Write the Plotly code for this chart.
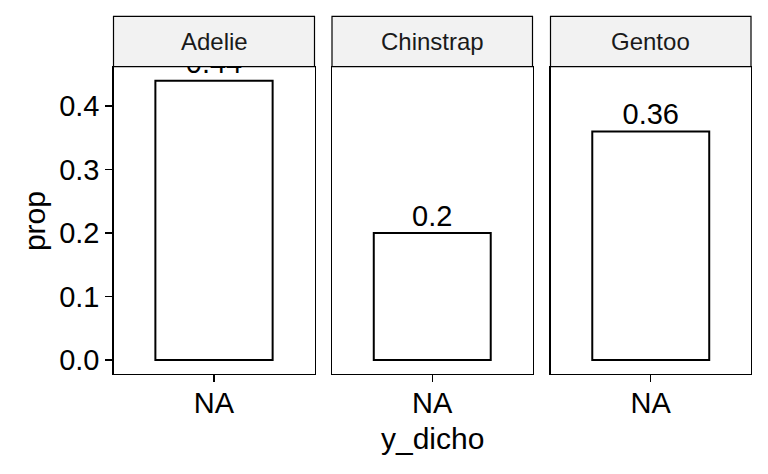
import plotly.graph_objects as go

species = ["Adelie", "Chinstrap", "Gentoo"]
props = [0.44, 0.2, 0.36]
labels = ["0.44", "0.2", "0.36"]
x_cat = ["NA", "NA", "NA"]
y_ticks = [0, 0.1, 0.2, 0.3, 0.4]
y_ticktext = ["0.0", "0.1", "0.2", "0.3", "0.4"]

W, H = 768, 474
panels_px = [(113.5, 314.5), (332, 532.5), (550.5, 751)]
panel_top, panel_bot = 67, 375.5
strip_top = 16.5

FONT = "Liberation Sans, Arial, sans-serif"

fig = go.Figure()
layout = dict(width=W, height=H, margin=dict(l=0, r=0, t=0, b=0),
              paper_bgcolor="white", plot_bgcolor="white", showlegend=False,
              font=dict(family=FONT, color="black"))
shapes = []
annotations = []
ydom = [(H - panel_bot) / H, (H - panel_top) / H]
for i, (sp, p, lab, xc) in enumerate(zip(species, props, labels, x_cat)):
    n = "" if i == 0 else str(i + 1)
    xa = "x" + n
    ya = "y" + n
    fig.add_trace(go.Bar(x=[xc], y=[p], width=0.7, marker=dict(color="white", line=dict(color="black", width=2)),
                         xaxis=xa, yaxis=ya, hoverinfo="skip"))
    fig.add_trace(go.Scatter(x=[xc], y=[p], mode="text", text=[lab], textposition="top center",
                             textfont=dict(size=29, family=FONT, color="black"),
                             cliponaxis=True, xaxis=xa, yaxis=ya, hoverinfo="skip"))
    x0, x1 = panels_px[i]
    layout["xaxis" + n] = dict(domain=[x0 / W, x1 / W], anchor=ya, type="category",
                               range=[-0.6, 0.6], showline=True, mirror=True, linecolor="black", linewidth=1.2,
                               ticks="outside", ticklen=7, tickwidth=1.2, tickcolor="black",
                               ticklabelstandoff=-4,
                               tickfont=dict(size=29, family=FONT, color="black"),
                               showgrid=False, zeroline=False, fixedrange=True)
    yax = dict(domain=ydom, anchor=xa, range=[-0.022, 0.462], showline=True, mirror=True,
               linecolor="black", linewidth=1.2, showgrid=False, zeroline=False, fixedrange=True)
    if i == 0:
        yax.update(ticks="outside", ticklen=7, tickwidth=1.2, tickcolor="black",
                   tickvals=y_ticks, ticktext=y_ticktext,
                   tickfont=dict(size=29, family=FONT, color="black"))
    else:
        yax.update(matches="y", showticklabels=False, ticks="")
    layout["yaxis" + n] = yax
    shapes.append(dict(type="rect", xref="paper", yref="paper", x0=x0 / W, x1=x1 / W,
                       y0=(H - panel_top) / H, y1=(H - strip_top) / H,
                       fillcolor="#F2F2F2", line=dict(color="black", width=1.2), layer="above"))
    annotations.append(dict(text=sp, xref="paper", yref="paper", x=(x0 + x1) / 2 / W,
                            y=(H - (panel_top + strip_top) / 2) / H, showarrow=False,
                            xanchor="center", yanchor="middle",
                            font=dict(size=24, family=FONT, color="#1A1A1A")))

annotations.append(dict(text="prop", xref="paper", yref="paper", x=34 / W, y=(H - 222) / H,
                        textangle=-90, showarrow=False, xanchor="center", yanchor="middle",
                        font=dict(size=30, family=FONT, color="black")))
annotations.append(dict(text="y_dicho", xref="paper", yref="paper", x=432 / W, y=(H - 440) / H,
                        showarrow=False, xanchor="center", yanchor="middle",
                        font=dict(size=30, family=FONT, color="black")))
layout["shapes"] = shapes
layout["annotations"] = annotations
fig.update_layout(**layout)
fig.write_html("out.html", config={"displayModeBar": False, "staticPlot": True},
               post_script="document.body.style.margin='0';document.body.style.overflow='hidden';")
